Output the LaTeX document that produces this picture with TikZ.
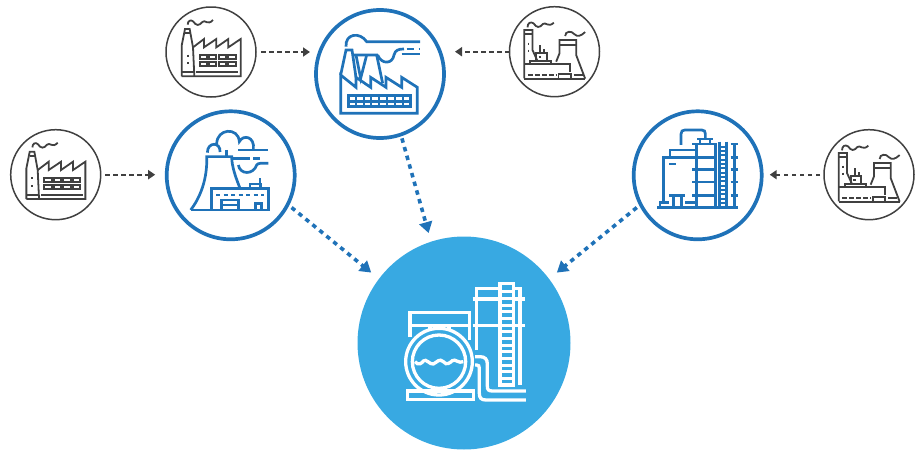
\documentclass[tikz,border=0pt]{standalone}
\usetikzlibrary{arrows.meta}
\definecolor{bluea}{HTML}{1F72B8}
\definecolor{darka}{HTML}{404040}
\definecolor{skya}{HTML}{38A9E2}
\tikzset{
  smallc/.style={circle,draw=darka,line width=1.5pt,minimum size=90pt,inner sep=0pt,outer sep=0pt},
  mainc/.style={circle,draw=bluea,line width=3.7pt,minimum size=128pt,inner sep=0pt,outer sep=0pt},
  bigc/.style={circle,fill=skya,minimum size=213pt,inner sep=0pt,outer sep=0pt},
  feed/.style={draw=darka,line width=1.8pt,dash pattern=on 4.5pt off 3.5pt,-{Triangle[length=7pt,width=9pt]}},
  flow/.style={draw=bluea,line width=3.6pt,dash pattern=on 4.5pt off 4.5pt,-{Triangle[length=11pt,width=13pt]}},
  icond/.style={draw=darka,line width=1.8pt},
  dotd/.style={draw=darka,line width=1.8pt},
  iconb/.style={draw=bluea,line width=2.7pt},
  iconw/.style={draw=white,line width=3.3pt},
}
% all icons are drawn in 3x pixel units
\newcommand{\factoryicon}[1]{%
\begin{scope}[shift={(#1.center)},x=.3333pt,y=-.3333pt,shift={(-166,-224)}]
 \draw[icond] (78,297)--(78,205)--(88,155)--(102,155)--(112,210)--(116,297);
 \draw[icond] (78,297)--(255,297)--(255,185)--(218,210)--(218,185)--(182,210)--(182,185)--(145,210)--(145,185)--(112,210);
 \draw[icond] (78,285)--(116,285) (122,285)--(248,285) (88,167)--(105,167);
 \foreach \yy in {233,255} \foreach \xx in {132,160,189,218} \draw[icond] (\xx,\yy) rectangle ++(22,12);
 \draw[dotd,dash pattern=on 2pt off 5.5pt] (96,232)--(96,270);
 \draw[icond] (96,142) .. controls (96,130) and (106,126) .. (112,132) .. controls (122,146) and (130,146) .. (140,134) .. controls (148,125) and (156,146) .. (172,128);
\end{scope}}
\newcommand{\planticon}[1]{%
\begin{scope}[shift={(#1.center)},x=.3333pt,y=-.3333pt,shift={(-313,-155)}]
 \draw[icond] (222,235)--(222,90)--(247,90)--(247,150)--(262,183);
 \draw[icond] (222,101)--(247,101);
 \draw[dotd,dash pattern=on 2pt off 5pt] (235,128)--(235,158);
 \draw[icond] (222,193)--(360,193)--(360,215);
 \draw[icond] (240,193)--(240,183)--(303,183)--(303,193);
 \draw[icond] (258,183)--(258,160)--(290,160)--(290,183);
 \draw[icond] (270,160)--(270,135) (282,160)--(282,148);
 \draw[dotd,dash pattern=on 2.5pt off 5pt] (265,172)--(285,172);
 \draw[icond] (222,236)--(405,236);
 \draw[dotd,dash pattern=on 5pt off 2pt] (232,225)--(320,225);
 \draw[icond] (325,222) rectangle (362,236);
 \draw[icond] (370,225)--(398,225);
 \draw[icond] (318,185)--(328,160)--(328,120)--(378,120)--(378,165)--(405,236);
 \draw[icond] (328,135)--(378,135);
 \draw[icond] (345,108) .. controls (345,92) and (365,92) .. (372,102) .. controls (382,112) and (392,108) .. (405,96);
 \draw[icond] (232,82) .. controls (232,68) and (242,64) .. (250,70) .. controls (260,84) and (268,84) .. (278,72) .. controls (286,64) and (294,84) .. (311,68);
\end{scope}}
\begin{document}
\begin{tikzpicture}[x=1pt,y=-1pt,line join=miter]
\useasboundingbox (0,0) rectangle (924,450);
\node[bigc] (big) at (464,343) {};
\node[mainc] (p1) at (230.7,175.3) {};
\node[mainc] (p2) at (380,74) {};
\node[mainc] (p3) at (697.7,175.3) {};
\node[smallc] (f1) at (55.7,174.7) {};
\node[smallc] (f2) at (211,52) {};
\node[smallc] (f3) at (554.5,51.7) {};
\node[smallc] (f4) at (869,174.7) {};
% connectors
\draw[feed,shorten <=4.5pt,shorten >=11.5pt] (f1.east) -- (f1 -| p1.west);
\draw[feed,shorten <=5pt,shorten >=6pt] (f2.east) -- (f2 -| p2.west);
\draw[feed,shorten <=0pt,shorten >=11pt] (f3.west) -- (f3 -| p2.east);
\draw[feed,shorten <=4pt,shorten >=8pt] (f4.west) -- (f4 -| p3.east);
\draw[flow,shorten <=5pt,shorten >=10pt] (p1.-27) -- (big.143);
\draw[flow,shorten <=4pt,shorten >=9pt] (p2.-71.6) -- (big.108);
\draw[flow,shorten <=5pt,shorten >=10pt] (p3.-153) -- (big.37);
% small icons
\factoryicon{f1}
\factoryicon{f2}
\planticon{f3}
\planticon{f4}
% power plant
\begin{scope}[shift={(p1.center)},x=.3333pt,y=-.3333pt,shift={(-692,-226)}]
 \draw[iconb] (572,330)--(805,330)--(805,265)--(635,265)--(635,330);
 \draw[iconb] (572,330) .. controls (610,280) and (622,220) .. (620,170)--(695,170) .. controls (695,200) and (708,235) .. (720,265);
 \draw[iconb,dash pattern=on 4pt off 3.5pt] (648,285)--(792,285);
 \draw[iconb] (665,330)--(665,300)--(715,300)--(715,330) (665,315)--(715,315);
 \draw[iconb] (767,330)--(767,310)--(785,310)--(785,330);
 \draw[iconb] (750,265)--(750,252)--(782,252)--(782,265) (780,252)--(780,235);
 \draw[iconb] (622,158) .. controls (622,125) and (662,125) .. (660,156);
 \draw[iconb] (650,132) .. controls (650,85) and (715,80) .. (718,125) .. controls (730,102) and (765,110) .. (760,148);
 \draw[iconb] (715,150)--(805,150) (680,150)--(680,172) (700,176)--(750,176) (760,176)--(780,176);
 \draw[iconb] (715,195) .. controls (720,225) and (760,225) .. (770,195) .. controls (775,188) and (785,190) .. (805,190);
\end{scope}
% factory
\begin{scope}[shift={(p2.center)},x=.3333pt,y=-.3333pt,shift={(-690,-222)}]
 \draw[iconb] (572,340)--(802,340)--(802,262)--(755,232)--(755,262)--(708,232)--(708,262)--(662,232)--(662,262)--(618,232)--(618,262)--(572,225)--cycle;
 \draw[iconb] (572,225)--(588,150)--(606,150)--(618,232);
 \draw[iconb] (606,165)--(680,165)--(698,250);
 \draw[iconb] (618,165)--(632,235)--(650,165);
 \draw[iconb] (588,140) .. controls (585,100) and (630,95) .. (650,125)--(810,125);
 \draw[iconb] (683,165) .. controls (695,195) and (728,192) .. (732,165) .. controls (736,150) and (745,147) .. (762,147);
 \draw[iconb,dash pattern=on 7pt off 5pt] (770,147)--(810,147);
 \draw[iconb] (755,162)--(810,162);
 \draw[iconb] (595,287) rectangle (782,320);
 \draw[iconb] (595,303.5)--(782,303.5);
 \foreach \xx in {618,641,664,688,711,735,758} \draw[iconb,line width=2pt] (\xx,287)--(\xx,320);
\end{scope}
% refinery
\begin{scope}[shift={(p3.center)},x=.3333pt,y=-.3333pt,shift={(-233,-226)}]
 \draw[bluea,line width=3.4pt] (112,322)--(354,322);
 \draw[iconb,line width=3pt] (228,130)--(228,322) (285,130)--(285,322) (342,130)--(342,322);
 \foreach \yy in {132,172,208,246,286} {\draw[iconb] (216,\yy)--(285,\yy); \draw[iconb] (332,\yy)--(354,\yy);}
 \draw[iconb] (232,117)--(278,117) (240,117)--(240,130) (270,117)--(270,130);
 \draw[iconb] (298,125)--(298,322) (320,125)--(320,322);
 \foreach \yy in {140,153,166,179,192,205,218,231,244,257,270,283,296,309} \draw[bluea,line width=2pt] (298,\yy)--(320,\yy);
 \draw[iconb] (183,135)--(183,102) .. controls (183,94) and (187,90) .. (195,90)--(245,90) .. controls (253,90) and (256,94) .. (256,102)--(256,116);
 \draw[iconb] (130,312)--(130,172)--(150,172)--(150,150)--(228,150);
 \draw[iconb] (130,172)--(216,172);
 \draw[iconb,dash pattern=on 7pt off 7pt] (148,192)--(190,192);
 \draw[iconb] (148,286)--(195,286) (160,286)--(160,322) (185,286)--(185,322);
 \draw[iconb] (120,322)--(120,308)--(148,308) (195,308)--(228,308);
\end{scope}
% tank
\begin{scope}[shift={(big.center)},x=.3333pt,y=-.3333pt,shift={(-252,-249)}]
 \draw[iconw] (90,232)--(90,157)--(268,157)--(268,240) (90,197)--(268,197) (150,197)--(150,215) (207,197)--(207,215);
 \fill[skya] (177,305) circle[radius=100];
 \draw[iconw] (177,305) circle[radius=100];
 \draw[iconw] (177,305) circle[radius=80];
 \draw[iconw] (82,393) rectangle (280,418);
 \draw[iconw] (105,305) .. controls (115,318) and (125,310) .. (130,303) .. controls (138,294) and (150,315) .. (160,312) .. controls (172,306) and (178,294) .. (190,305) .. controls (200,318) and (210,308) .. (217,302) .. controls (226,295) and (236,312) .. (250,305);
 \draw[iconw] (290,270)--(290,85)--(420,85)--(420,375);
 \draw[iconw] (278,117)--(435,117) (278,197)--(435,197);
 \fill[skya] (360,70) rectangle (400,375);
 \draw[iconw] (360,70) rectangle (400,375);
 \foreach \yy in {95,115,135,155,175,195,215,235,255,275,295,315,335,355} \draw[white,line width=3pt] (360,\yy)--(400,\yy);
 \draw[iconw] (285,290)--(300,290) .. controls (315,290) and (322,298) .. (322,312)--(322,378) .. controls (322,390) and (326,393) .. (338,393)--(438,393);
 \draw[iconw] (285,315)--(290,315) .. controls (296,315) and (298,318) .. (298,325)--(298,400) .. controls (298,414) and (304,420) .. (318,420)--(438,420);
\end{scope}
\end{tikzpicture}
\end{document}
